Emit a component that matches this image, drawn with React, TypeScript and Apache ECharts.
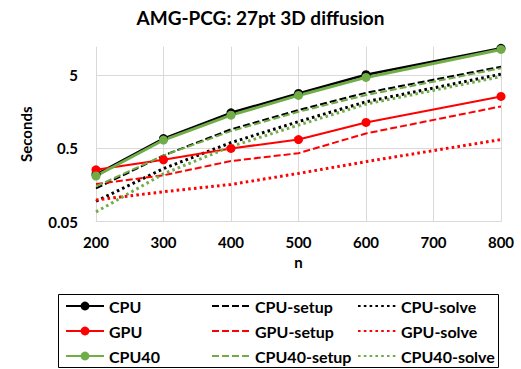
import React, { useEffect, useRef } from "react";
import * as echarts from "echarts";

const xValues = [200, 300, 400, 500, 600, 800];
const xTicks = { min: 200, max: 800, interval: 100 };
const yBase = 0.05;
const yTickLabels = ["0.05", "0.5", "5"];
const yMax = 12.2;

const cpu = [0.22, 0.68, 1.53, 2.81, 5.06, 11.6];
const cpuSetup = [0.142, 0.4, 0.91, 1.67, 2.87, 6.5];
const cpuSolve = [0.095, 0.265, 0.6, 1.16, 2.16, 5.15];
const gpu = [0.255, 0.35, 0.5, 0.66, 1.13, 2.56];
const gpuSetup = [0.163, 0.215, 0.336, 0.43, 0.8, 1.87];
const gpuSolve = [0.099, 0.128, 0.161, 0.228, 0.33, 0.66];
const cpu40 = [0.21, 0.65, 1.42, 2.64, 4.65, 11.2];
const cpu40Setup = [0.152, 0.4, 0.86, 1.58, 2.67, 6.2];
const cpu40Solve = [0.068, 0.225, 0.53, 1.04, 2.01, 4.78];

const legendCol1 = ["CPU", "GPU", "CPU40"];
const legendCol2 = ["CPU-setup", "GPU-setup", "CPU40-setup"];
const legendCol3 = ["CPU-solve", "GPU-solve", "CPU40-solve"];

const BLACK = "#000000";
const RED = "#ff0000";
const GREEN = "#70ad47";
const FONT = "Lato";

const toLog = (v: number) => Math.log10(v / yBase);

type Spec = { name: string; data: number[]; color: string; kind: "solid" | "dashed" | "dotted"; width: number };

const specs: Spec[] = [
  { name: "CPU", data: cpu, color: BLACK, kind: "solid", width: 2.5 },
  { name: "CPU-setup", data: cpuSetup, color: BLACK, kind: "dashed", width: 2 },
  { name: "CPU-solve", data: cpuSolve, color: BLACK, kind: "dotted", width: 3 },
  { name: "GPU", data: gpu, color: RED, kind: "solid", width: 2 },
  { name: "GPU-setup", data: gpuSetup, color: RED, kind: "dashed", width: 2 },
  { name: "GPU-solve", data: gpuSolve, color: RED, kind: "dotted", width: 3 },
  { name: "CPU40", data: cpu40, color: GREEN, kind: "solid", width: 3 },
  { name: "CPU40-setup", data: cpu40Setup, color: GREEN, kind: "dashed", width: 2 },
  { name: "CPU40-solve", data: cpu40Solve, color: GREEN, kind: "dotted", width: 3 },
];

export default function App() {
  const ref = useRef<HTMLDivElement>(null);
  useEffect(() => {
    if (!ref.current) return;
    const chart = echarts.init(ref.current, null, { renderer: "svg" });
    const series = specs.map((s) => ({
      name: s.name,
      type: "line",
      data: xValues.map((x, i) => [x, toLog(s.data[i])]),
      symbol: s.kind === "solid" ? "circle" : "none",
      symbolSize: 9,
      showSymbol: s.kind === "solid",
      itemStyle: { color: s.color },
      lineStyle: {
        color: s.color,
        width: s.width,
        type: s.kind === "solid" ? "solid" : s.kind === "dashed" ? [7, 3] : [2.6, 3.2],
        cap: "butt",
      },
      z: 2,
    }));
    const kindOf = (name: string) => specs.find((s) => s.name === name)!.kind;
    const legendItems = (names: string[]) =>
      names.map((n) =>
        kindOf(n) === "solid"
          ? { name: n }
          : { name: n, itemStyle: { color: "rgba(0,0,0,0)", borderColor: "rgba(0,0,0,0)", borderWidth: 0 } }
      );
    const legendText = { fontFamily: FONT, fontWeight: "bold", fontSize: 16, color: "#000", lineHeight: 16 };
    const legendCommon = {
      orient: "vertical",
      top: 298,
      height: 70,
      itemWidth: 38,
      itemHeight: 11,
      itemGap: 9,
      padding: 0,
      textStyle: legendText,
    };
    chart.setOption({
      animation: false,
      title: {
        text: "AMG-PCG: 27pt 3D diffusion",
        left: "center",
        top: 3,
        textStyle: { fontFamily: FONT, fontWeight: "bold", fontSize: 19, color: "#000" },
      },
      grid: { left: 96, right: 20, top: 46.7, bottom: 147.3, containLabel: false },
      xAxis: {
        type: "value",
        min: xTicks.min,
        max: xTicks.max,
        interval: xTicks.interval,
        name: "n",
        nameLocation: "middle",
        nameGap: 33,
        nameTextStyle: { fontFamily: FONT, fontWeight: "bold", fontSize: 15, color: "#000" },
        axisLine: { show: true, lineStyle: { color: "#d9d9d9", width: 1 } },
        axisTick: { show: false },
        axisLabel: { margin: 13, fontFamily: FONT, fontWeight: "bold", fontSize: 15, color: "#000" },
        splitLine: { show: true, lineStyle: { color: "#d9d9d9", width: 1 } },
      },
      yAxis: {
        type: "value",
        min: 0,
        max: toLog(yMax),
        interval: 1,
        name: "Seconds",
        nameLocation: "middle",
        nameGap: 63,
        nameRotate: 90,
        nameTextStyle: { fontFamily: FONT, fontWeight: "bold", fontSize: 15, color: "#000" },
        axisLine: { show: false },
        axisTick: { show: false },
        axisLabel: {
          margin: 18,
          fontFamily: FONT,
          fontWeight: "bold",
          fontSize: 15,
          color: "#000",
          showMaxLabel: false,
          formatter: (v: number) => {
            const r = Math.round(v);
            return Math.abs(v - r) < 1e-6 && yTickLabels[r] !== undefined ? yTickLabels[r] : "";
          },
        },
        splitLine: {
          show: true,
          lineStyle: { color: ["#d9d9d9", "#d9d9d9", "#d9d9d9", "rgba(0,0,0,0)"], width: 1 },
        },
      },
      legend: [
        { ...legendCommon, left: 65, data: legendItems(legendCol1) },
        { ...legendCommon, left: 211, data: legendItems(legendCol2) },
        { ...legendCommon, left: 357, data: legendItems(legendCol3) },
      ],
      graphic: [
        {
          type: "rect",
          shape: { x: 58.5, y: 294.5, width: 440, height: 73 },
          style: { fill: "none", stroke: "#000", lineWidth: 1 },
          silent: true,
        },
      ],
      series,
    });
    return () => chart.dispose();
  }, []);
  return <div ref={ref} style={{ width: 521, height: 369, position: "absolute", left: 0, top: 0 }} />;
}
